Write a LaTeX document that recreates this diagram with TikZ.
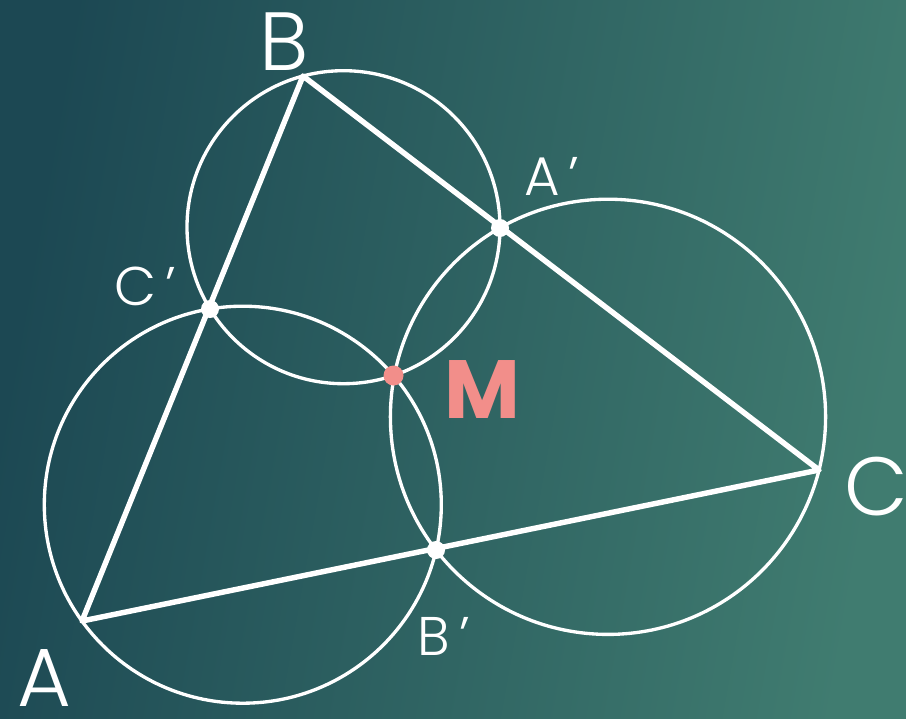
\documentclass[tikz,border=0pt]{standalone}
\usepackage{fontspec}
\newfontfamily\labfont{Poppins}[UprightFont={* Light}, BoldFont={* Bold}]
\usepackage{xcolor}
\definecolor{bgDark}    {HTML}{1C4853}
\definecolor{bgLight}   {HTML}{407C70}
\definecolor{miquelRed} {HTML}{F28E8A}
\tikzset{
    side/.style={white, line width=3.1pt, line join=round},
    circ/.style={white, line width=1.9pt},
    dot/.style={circle, fill=white, inner sep=0pt, minimum size=3.6mm},
    mdot/.style={circle, fill=miquelRed, inner sep=0pt, minimum size=4mm},
    lbl/.style={white, inner sep=0pt, anchor=base,
                font=\labfont\fontsize{47}{47}\selectfont},
    plbl/.style={lbl, font=\labfont\fontsize{31}{31}\selectfont},
}

\begin{document}
\begin{tikzpicture}[x=0.2mm, y=-0.2mm]
    \useasboundingbox (0,0) rectangle (906,718);
    \shade[left color=bgDark, right color=bgLight, shading angle=80]
        (0,0) rectangle (906,718);

    % triangle and the feet on its sides
    \coordinate (A)  at (82,621);
    \coordinate (B)  at (303,76);
    \coordinate (C)  at (819,470);
    \coordinate (A1) at (500,228);
    \coordinate (B1) at (436,550);
    \coordinate (C1) at (210,309);
    \coordinate (M)  at (393.5,375.5);

    % the three circles through M
    \draw[circ] (343.5,227.2) circle[radius=156.5];
    \draw[circ] (242.8,504.7) circle[radius=198.5];
    \draw[circ] (608.0,416.8) circle[radius=217.6];

    \draw[side] (A) -- (B) -- (C) -- cycle;

    \node[dot] (dA1) at (A1) {};
    \node[dot] (dB1) at (B1) {};
    \node[dot] (dC1) at (C1) {};
    \node[mdot] (dM) at (M) {};

    \node[lbl] (labA) at (44,706) {A};
    \node[lbl] (labB) at (284,70) {B};
    \node[lbl] (labC) at (876,515) {C};
    \node[plbl] (labA1) at (552,195) {A\,’};
    \node[plbl] (labB1) at (444,655) {B\,’};
    \node[plbl] (labC1) at (145,305) {C\,’};
    \node[lbl, text=miquelRed, font=\labfont\bfseries\fontsize{47}{47}\selectfont]
        (labM) at (482,418) {M};
\end{tikzpicture}
\end{document}
